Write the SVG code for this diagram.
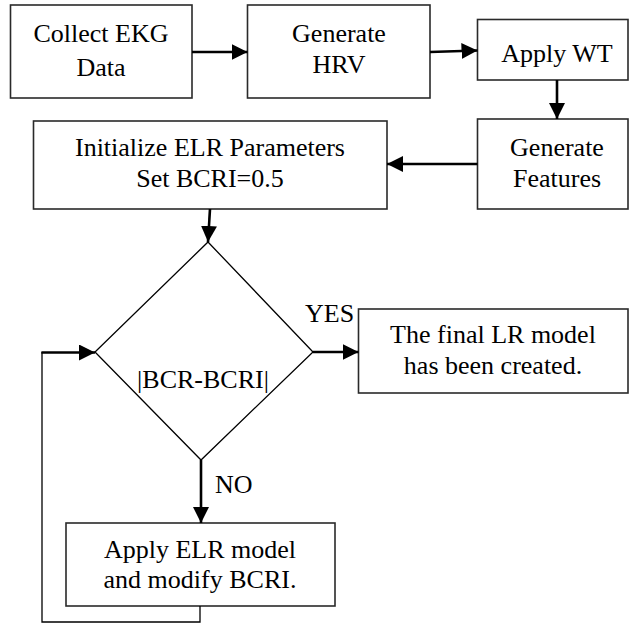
<svg xmlns="http://www.w3.org/2000/svg" width="629" height="623" viewBox="0 0 629 623">
<style>
  .box { fill: #fff; stroke: #2a2a2a; stroke-width: 1.6; }
  .dia { fill: #fff; stroke: #000; stroke-width: 1.3; }
  .t { font-family: 'Liberation Serif', 'Times New Roman', serif; font-size: 26px; fill: #000; }
  .c { text-anchor: middle; }
  .arr { fill: none; stroke: #000; stroke-width: 2.6; marker-end: url(#ah); }
  .thin { fill: none; stroke: #000; stroke-width: 1.3; }
</style>
<defs>
  <marker id="ah" markerUnits="userSpaceOnUse" markerWidth="16" markerHeight="16" refX="16" refY="8" orient="auto" viewBox="0 0 16 16">
    <path d="M0,0 L16,8 L0,16 Z" fill="#000"/>
  </marker>
</defs>
<g id="n1">
  <rect class="box" x="10.5" y="5" width="181.5" height="93"/>
  <text class="t c" x="101" y="42">Collect EKG</text>
  <text class="t c" x="101" y="76">Data</text>
</g>
<g id="n2">
  <rect class="box" x="247.5" y="5" width="182.5" height="93"/>
  <text class="t c" x="339" y="42">Generate</text>
  <text class="t c" x="339" y="73">HRV</text>
</g>
<g id="n3">
  <rect class="box" x="477.5" y="19.5" width="150.5" height="60.5"/>
  <text class="t c" x="557" y="62">Apply WT</text>
</g>
<g id="n4">
  <rect class="box" x="477.5" y="119" width="150.5" height="90"/>
  <text class="t c" x="557" y="156">Generate</text>
  <text class="t c" x="557" y="187">Features</text>
</g>
<g id="n5">
  <rect class="box" x="33.5" y="121" width="353.5" height="88"/>
  <text class="t c" x="210" y="156">Initialize ELR Parameters</text>
  <text class="t c" x="210" y="187">Set BCRI=0.5</text>
</g>
<g id="n6">
  <polygon class="dia" points="208,242 313,352 201,460 95,352"/>
  <text class="t c" x="203" y="388">|BCR-BCRI|</text>
</g>
<g id="n7">
  <rect class="box" x="358.5" y="309" width="269.5" height="84"/>
  <text class="t c" x="493" y="343">The final LR model</text>
  <text class="t c" x="493" y="374">has been created.</text>
</g>
<g id="n8">
  <rect class="box" x="66" y="523" width="269" height="83"/>
  <text class="t c" x="200" y="558">Apply ELR model</text>
  <text class="t c" x="200" y="588">and modify BCRI.</text>
</g>
<g id="connectors">
  <line class="arr" x1="192" y1="52" x2="247.5" y2="52"/>
  <line class="arr" x1="430" y1="52" x2="477.5" y2="50.5"/>
  <line class="arr" x1="557" y1="80" x2="557" y2="119"/>
  <line class="arr" x1="477.5" y1="164" x2="387" y2="164"/>
  <line class="arr" x1="210" y1="209" x2="208" y2="242"/>
  <line class="arr" x1="313" y1="352" x2="358.5" y2="352"/>
  <line class="arr" x1="201" y1="460" x2="201" y2="523"/>
  <polyline class="thin" points="200,606 200,622 42,622 42,352"/>
  <line class="arr" x1="41.4" y1="352.5" x2="95" y2="352.5"/>
  <text class="t" x="305" y="322">YES</text>
  <text class="t" x="215" y="493">NO</text>
</g>
</svg>
